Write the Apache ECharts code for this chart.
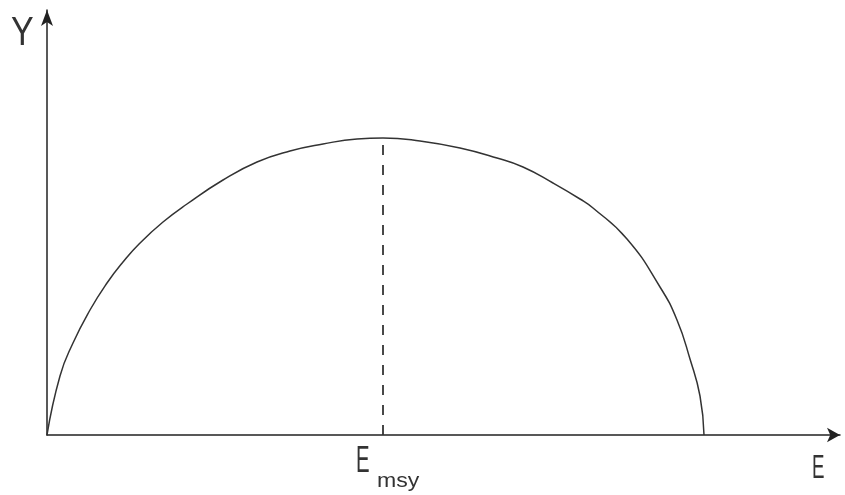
<!DOCTYPE html>
<html>
<head>
<meta charset="utf-8">
<script src="https://cdn.jsdelivr.net/npm/echarts@6/dist/echarts.min.js"></script>
<style>
  html, body { margin: 0; padding: 0; background: #fff; }
  #chart { width: 845px; height: 495px; }
</style>
</head>
<body>
<div id="chart"></div>
<script>
// yield curve (E, Y)
var effort = [0, 13, 26, 43, 60, 76, 93, 116, 140, 176, 210, 243, 276, 310, 336,
  373, 413, 450, 476, 506, 533, 546, 580, 613, 630, 643, 653, 657];
var yieldY = [0, 59, 92, 125, 152, 173, 192, 213, 231, 255, 273, 284, 291, 296, 297,
  294, 287, 277, 268, 252, 236, 227, 196, 148, 115, 76, 39, 0];
var eMsy = 336;
var yMax = 297;

var curve = effort.map(function (e, i) { return [e, yieldY[i]]; });

var dom = document.getElementById('chart');
var myChart = echarts.init(dom);
var option = {
  animation: false,
  grid: { left: 47, right: 5, top: 10, bottom: 60 },
  xAxis: {
    type: 'value',
    min: 0,
    max: 793,
    splitLine: { show: false },
    axisTick: { show: false },
    axisLabel: { show: false },
    axisLine: {
      lineStyle: { color: '#222', width: 1.5 },
      symbol: ['none', 'arrow'],
      symbolSize: [11, 13]
    }
  },
  yAxis: {
    type: 'value',
    min: 0,
    max: 425,
    splitLine: { show: false },
    axisTick: { show: false },
    axisLabel: { show: false },
    axisLine: {
      lineStyle: { color: '#222', width: 1.5 },
      symbol: ['none', 'arrow'],
      symbolSize: [9, 16]
    }
  },
  series: [
    {
      name: 'yield',
      type: 'line',
      smooth: 0.5,
      symbol: 'none',
      data: curve,
      lineStyle: { color: '#333', width: 1.5 }
    },
    {
      name: 'msy',
      type: 'line',
      symbol: 'none',
      data: [[eMsy, 0], [eMsy, yMax]],
      lineStyle: { color: '#333', width: 1.8, type: [10, 10] }
    }
  ]
};
myChart.setOption(option, true);

// hand-lettered labels: axis names and the E_msy mark under the axis
var px = myChart.convertToPixel({ xAxisIndex: 0 }, eMsy);
var txt = { fontFamily: 'Liberation Sans', fill: '#333', textVerticalAlign: 'top' };
myChart.setOption({
  graphic: [
    { type: 'text', x: 11, y: 14, scaleX: 0.85, style: Object.assign({ text: 'Y', fontSize: 40 }, txt) },
    { type: 'text', x: 812, y: 452, scaleX: 0.55, style: Object.assign({ text: 'E', fontSize: 34 }, txt) },
    { type: 'text', x: px - 27, y: 443, scaleX: 0.55, style: Object.assign({ text: 'E', fontSize: 37 }, txt) },
    { type: 'text', x: px - 6, y: 471, scaleX: 1.1, style: Object.assign({ text: 'msy', fontSize: 21 }, txt) }
  ]
});
</script>
</body>
</html>
